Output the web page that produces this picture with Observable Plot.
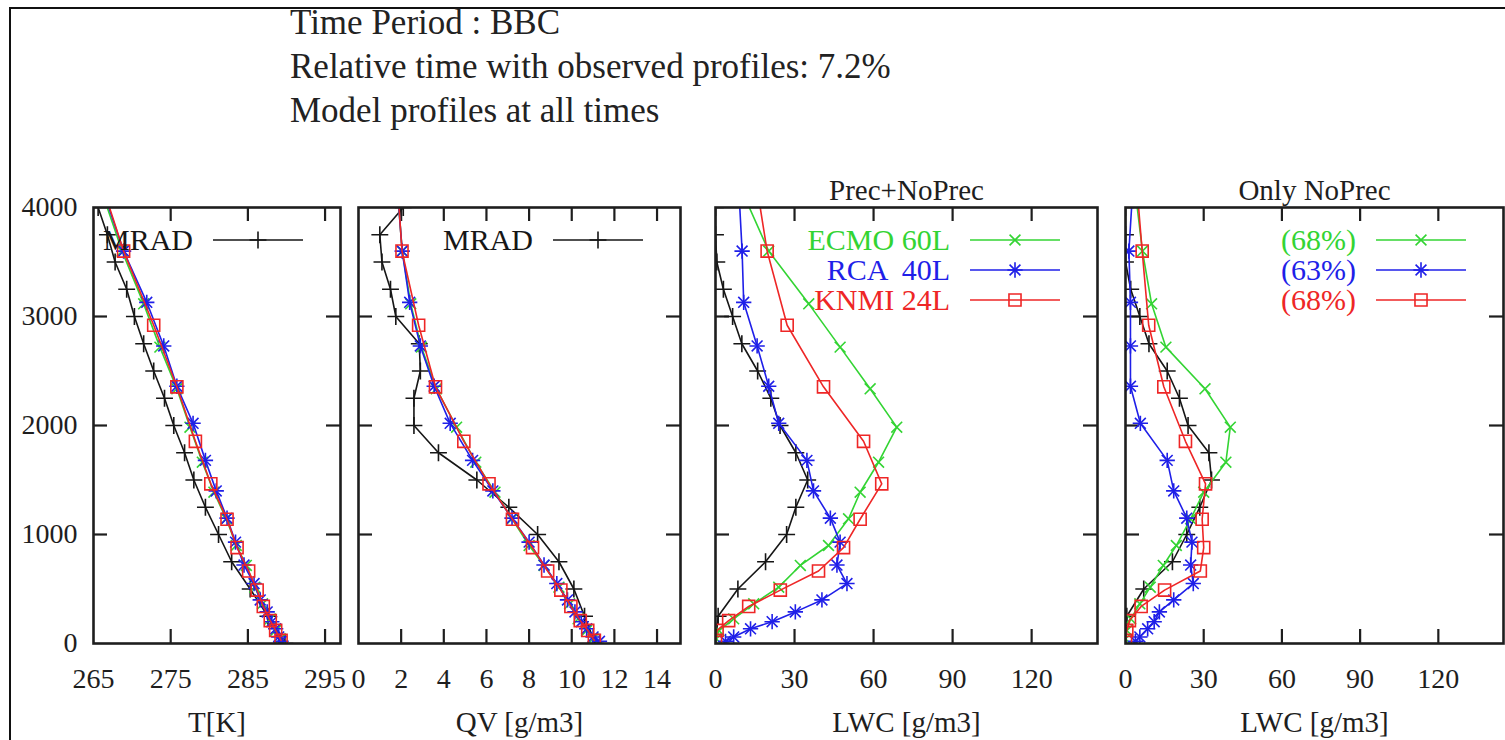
<!DOCTYPE html>
<html>
<head>
<meta charset="utf-8">
<script src="https://cdn.jsdelivr.net/npm/d3@7"></script>
<script src="https://cdn.jsdelivr.net/npm/@observablehq/plot@0.6"></script>
<style>
  body { margin: 0; background: #fff; }
  #page { position: relative; width: 1505px; height: 740px; overflow: hidden; background: #fff;
          font-family: "Liberation Serif", "Times New Roman", serif; }
  #border { position: absolute; left: 9px; top: 7px; width: 1520px; height: 760px;
            border-top: 2px solid #111; border-left: 2px solid #111; }
  #head { position: absolute; left: 0; top: 0; }
  .panel { position: absolute; top: 170px; }
  .panel text { font-family: "Liberation Serif", "Times New Roman", serif; }
</style>
</head>
<body>
<div id="page">
  <div id="border"></div>
  <svg id="head" width="1000" height="150" font-family="Liberation Serif, Times New Roman, serif" font-size="35" fill="#222">
    <text x="290" y="34">Time Period : BBC</text>
    <text x="290" y="78">Relative time with observed profiles: 7.2%</text>
    <text x="290" y="122">Model profiles at all times</text>
  </svg>
</div>
<script>
// ---- Observed profiles (MRAD), heights in m ----
const heightsMRAD = [0, 250, 500, 750, 1000, 1250, 1500, 1750, 2000, 2250, 2500, 2750, 3000, 3250, 3500, 3750, 4000];
const tMRAD       = [289.8, 287.6, 285.3, 282.9, 281.2, 279.5, 278.0, 276.8, 275.4, 274.2, 272.8, 271.5, 270.3, 269.3, 267.8, 266.8, 265.6];
const qvMRAD      = [11.1, 10.6, 10.1, 9.4, 8.4, 7.05, 5.55, 3.75, 2.6, 2.6, 2.9, 2.85, 1.75, 1.5, 1.1, 1.0, 2.1];
const lwcMRAD     = [0, 1, 8.5, 19, 27, 30.5, 35, 30.5, 24.5, 21, 16, 10, 6.5, 3, 0.5, 0, 0];
const lwcMRADnp   = [0, 0.5, 7, 18, 23.5, 28.5, 33, 32, 24, 20.7, 16, 9, 5.5, 2, 0, 0, 0];

// ---- ECMO 60L ----
const heightsECMO = [43, 119, 226, 364, 517, 716, 899, 1144, 1388, 1663, 1985, 2337, 2719, 3116, 3600, 4100];
const tECMO       = [289.2, 288.6, 287.9, 286.9, 285.9, 284.8, 283.5, 282.2, 280.6, 279.1, 277.5, 275.8, 273.6, 271.5, 268.7, 266.3];
const qvECMO      = [11.0, 10.7, 10.3, 9.9, 9.4, 8.7, 8.0, 7.2, 6.4, 5.5, 4.6, 3.65, 2.95, 2.45, 2.05, 1.85];
const lwcECMO     = [0.3, 1.3, 6.9, 14.5, 24, 32.2, 42.9, 50.5, 54.9, 61.9, 68.8, 58.7, 47.3, 35.4, 20.2, 11];
const lwcECMOnp   = [0, 0.5, 2, 5.5, 9.5, 14.5, 19.5, 25, 30, 38.5, 40.2, 30.5, 15.5, 10, 6.5, 4];

// ---- RCA 40L ----
const heightsRCA = [20, 60, 135, 200, 290, 400, 550, 720, 930, 1150, 1400, 1680, 2020, 2360, 2730, 3130, 3600, 4100];
const tRCA       = [289.3, 289.0, 288.6, 288.1, 287.5, 286.6, 285.8, 284.5, 283.4, 282.3, 280.9, 279.5, 277.9, 275.8, 274.1, 271.9, 268.9, 266.5];
const qvRCA      = [11.3, 11.0, 10.7, 10.45, 10.15, 9.8, 9.3, 8.7, 8.0, 7.2, 6.3, 5.35, 4.3, 3.55, 2.9, 2.4, 2.05, 1.85];
const lwcRCA     = [3.8, 6.9, 13.3, 21.5, 30.3, 40.4, 49.9, 46.1, 47.3, 43.6, 37.2, 34.7, 24, 20.2, 15.8, 10.7, 10.1, 9];
const lwcRCAnp   = [3.8, 5.5, 8.5, 11, 13, 18.5, 26, 25, 25.5, 23.5, 18.5, 16, 5.7, 1.9, 1.9, 1.9, 1.3, 2.6];

// ---- KNMI 24L ----
const heightsKNMI = [28, 120, 210, 340, 490, 665, 880, 1140, 1465, 1855, 2355, 2920, 3600, 4300];
const tKNMI       = [289.3, 288.6, 287.9, 287.0, 286.2, 285.1, 283.6, 282.3, 280.2, 278.2, 275.8, 272.8, 268.9, 265.7];
const qvKNMI      = [11.06, 10.75, 10.4, 9.96, 9.49, 8.87, 8.16, 7.22, 6.12, 4.94, 3.61, 2.82, 2.04, 1.8];
const lwcKNMI     = [0, 0.6, 5, 12.6, 24.6, 39.1, 48.6, 54.9, 63.1, 56.2, 41, 27.2, 19.6, 15];
const lwcKNMInp   = [0, 0.5, 1.5, 6, 15, 28.7, 30, 29.4, 30.7, 23, 14.7, 8.9, 6.4, 4];

// ---- Axes ----
const yTicks   = [0, 1000, 2000, 3000, 4000];
const tTicks   = [265, 275, 285, 295];
const qvTicks  = [0, 2, 4, 6, 8, 10, 12, 14];
const lwcTicks = [0, 30, 60, 90, 120];

// ---- Legend labels ----
const modelLabels   = ["ECMO 60L", "RCA  40L", "KNMI 24L"];
const noPrecShares  = ["(68%)", "(63%)", "(68%)"];

const SERIF = "Liberation Serif, Times New Roman, serif";

// Drawing style for each source
const style = {
  MRAD: {color: "#161616", symbols: ["plus"], r: 5.5},
  ECMO: {color: "#33d433", symbols: ["times"], r: 5},
  RCA:  {color: "#1f1fe8", symbols: ["plus", "times"], r: 5},
  KNMI: {color: "#ee2626", symbols: ["square"], r: 6.8}
};
const d3Symbol = {plus: d3.symbolPlus, times: d3.symbolTimes, square: d3.symbolSquare};

const rows = (hs, vs) => hs.map((h, i) => ({h, v: vs[i]}));

const FRAME_H = 436;
const TICK = 14;

// Legend drawn inside the upper right of the frame
function legendMark(entries) {
  return (index, scales, values, dims) => {
    const g = d3.create("svg:g").attr("font-size", 30).attr("font-family", SERIF);
    const x1 = dims.width - dims.marginRight - 37;
    const x0 = x1 - 90;
    entries.forEach((e, i) => {
      const s = style[e.key];
      const y = dims.marginTop + 33 + i * 30;
      g.append("text").attr("x", x0 - 20).attr("y", y).attr("dy", "0.34em")
        .attr("text-anchor", "end").attr("fill", s.color)
        .style("white-space", "pre").text(e.label);
      g.append("line").attr("x1", x0).attr("x2", x1).attr("y1", y).attr("y2", y)
        .attr("stroke", s.color).attr("stroke-width", 1.6);
      s.symbols.forEach(sym => g.append("path")
        .attr("transform", `translate(${(x0 + x1) / 2},${y})`)
        .attr("d", d3.symbol(d3Symbol[sym], Math.PI * s.r * s.r)())
        .attr("fill", "none").attr("stroke", s.color).attr("stroke-width", 1.6));
    });
    return g.node();
  };
}

function panel(cfg) {
  const frameW = cfg.width - cfg.marginLeft - cfg.marginRight;
  const inner = cfg.ticks.filter(t => t > cfg.domain[0] && t < cfg.domain[1]);
  const innerY = yTicks.filter(t => t > 0 && t < 4000);
  const tickStyle = {stroke: "#1e1e1e", strokeWidth: 2.2};
  const marks = [
    Plot.ruleX(inner, {...tickStyle, insetTop: FRAME_H - TICK}),
    Plot.ruleX(inner, {...tickStyle, insetBottom: FRAME_H - TICK}),
    Plot.ruleY(innerY, {...tickStyle, insetRight: frameW - TICK}),
    Plot.ruleY(innerY, {...tickStyle, insetLeft: frameW - TICK})
  ];
  for (const s of cfg.series) {
    const st = style[s.key];
    marks.push(Plot.line(s.data, {x: "v", y: "h", stroke: st.color, strokeWidth: 1.6, clip: true}));
    for (const sym of st.symbols) {
      marks.push(Plot.dot(s.data, {x: "v", y: "h", symbol: sym, r: st.r, stroke: st.color,
                                   fill: "none", strokeWidth: 1.6, clip: true}));
    }
  }
  marks.push(Plot.frame({stroke: "#1e1e1e", strokeWidth: 2.6}));
  marks.push(Plot.axisX(cfg.ticks, {tickSize: 0, tickPadding: 25, label: null, fontSize: 28,
                                    fontFamily: SERIF, fontVariant: "normal", tickFormat: d => String(d)}));
  if (cfg.yLabels) {
    marks.push(Plot.axisY(yTicks, {anchor: "left", tickSize: 0, tickPadding: 16, label: null,
                                   fontSize: 28, fontFamily: SERIF, fontVariant: "normal",
                                   tickFormat: d => String(d)}));
  } else {
    marks.push(Plot.axisY([], {label: null}));
  }
  marks.push(Plot.text([cfg.xLabel], {text: d => d, frameAnchor: "bottom", lineAnchor: "middle",
                                      dy: 79, fontSize: 29, fontFamily: SERIF}));
  if (cfg.title) marks.push(Plot.text([cfg.title], {text: d => d, frameAnchor: "top", lineAnchor: "middle",
                                                    dy: -17, fontSize: 29, fontFamily: SERIF}));
  marks.push(legendMark(cfg.legend));

  const chart = Plot.plot({
    width: cfg.width,
    height: 570,
    marginTop: 37,
    marginBottom: 97,
    marginLeft: cfg.marginLeft,
    marginRight: cfg.marginRight,
    x: {domain: cfg.domain},
    y: {domain: [0, 4000]},
    style: {fontFamily: SERIF, fontSize: "28px", color: "#1e1e1e",
            background: "transparent", overflow: "visible"},
    marks
  });
  chart.classList.add("panel");
  chart.style.left = cfg.left + "px";
  document.getElementById("page").appendChild(chart);
}

const mradLegend = [{key: "MRAD", label: "MRAD"}];
const modelLegend = ["ECMO", "RCA", "KNMI"].map((key, i) => ({key, label: modelLabels[i]}));
const shareLegend = ["ECMO", "RCA", "KNMI"].map((key, i) => ({key, label: noPrecShares[i]}));

panel({
  left: 0, width: 350, marginLeft: 93, marginRight: 10,
  domain: [265, 297], ticks: tTicks, xLabel: "T[K]", yLabels: true,
  legend: mradLegend,
  series: [
    {key: "MRAD", data: rows(heightsMRAD, tMRAD)},
    {key: "ECMO", data: rows(heightsECMO, tECMO)},
    {key: "RCA",  data: rows(heightsRCA, tRCA)},
    {key: "KNMI", data: rows(heightsKNMI, tKNMI)}
  ]
});

panel({
  left: 350, width: 340, marginLeft: 8, marginRight: 10,
  domain: [0, 15.1], ticks: qvTicks, xLabel: "QV [g/m3]",
  legend: mradLegend,
  series: [
    {key: "MRAD", data: rows(heightsMRAD, qvMRAD)},
    {key: "ECMO", data: rows(heightsECMO, qvECMO)},
    {key: "RCA",  data: rows(heightsRCA, qvRCA)},
    {key: "KNMI", data: rows(heightsKNMI, qvKNMI)}
  ]
});

panel({
  left: 690, width: 420, marginLeft: 25, marginRight: 13,
  domain: [0, 145], ticks: lwcTicks, xLabel: "LWC [g/m3]", title: "Prec+NoPrec",
  legend: modelLegend,
  series: [
    {key: "MRAD", data: rows(heightsMRAD, lwcMRAD)},
    {key: "ECMO", data: rows(heightsECMO, lwcECMO)},
    {key: "RCA",  data: rows(heightsRCA, lwcRCA)},
    {key: "KNMI", data: rows(heightsKNMI, lwcKNMI)}
  ]
});

panel({
  left: 1110, width: 400, marginLeft: 15, marginRight: 7,
  domain: [0, 145], ticks: lwcTicks, xLabel: "LWC [g/m3]", title: "Only NoPrec",
  legend: shareLegend,
  series: [
    {key: "MRAD", data: rows(heightsMRAD, lwcMRADnp)},
    {key: "ECMO", data: rows(heightsECMO, lwcECMOnp)},
    {key: "RCA",  data: rows(heightsRCA, lwcRCAnp)},
    {key: "KNMI", data: rows(heightsKNMI, lwcKNMInp)}
  ]
});
</script>
</body>
</html>
